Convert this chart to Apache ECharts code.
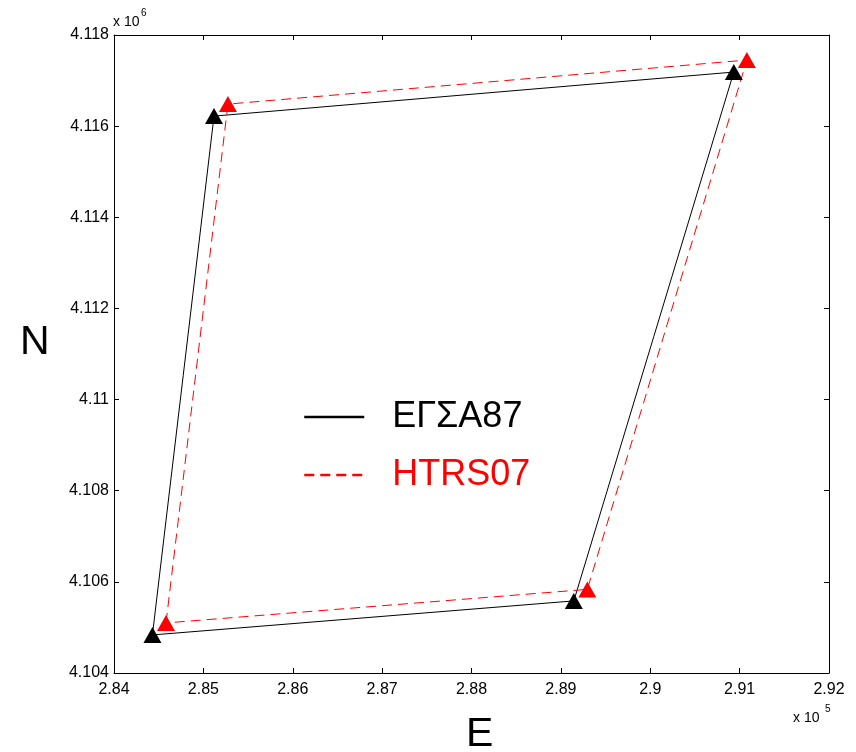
<!DOCTYPE html>
<html>
<head>
<meta charset="utf-8">
<script src="https://cdn.jsdelivr.net/npm/echarts@6/dist/echarts.min.js"></script>
<style>
  html, body { margin: 0; padding: 0; background: #fff; }
  #chart { width: 856px; height: 752px; }
</style>
</head>
<body>
<div id="chart"></div>
<script>
// corner points (E, N) in metres, polygon closed back to first point
var egsaE = [284430, 285119, 290935, 289145, 284430];
var egsaN = [4104835, 4116220, 4117187, 4105582, 4104835];
var htrsE = [284582, 285275, 291081, 289296, 284582];
var htrsN = [4105099, 4116484, 4117450, 4105835, 4105099];

var seriesNames = ['ΕΓΣΑ87', 'HTRS07'];

var FONT = 'Liberation Sans, Arial, sans-serif';

function zip(xs, ys) {
    return xs.map(function (x, i) { return [x, ys[i]]; });
}

function fmtX(v) { return String(+(v / 1e5).toFixed(2)); }
function fmtY(v) { return String(+(v / 1e6).toFixed(3)); }

var axisCommon = {
    type: 'value',
    axisLine: { show: true, onZero: false, lineStyle: { color: '#000', width: 1 } },
    axisTick: { show: true, inside: true, length: 5, lineStyle: { color: '#000' } },
    splitLine: { show: false }
};

function xAxis(pos, labels) {
    return Object.assign({}, axisCommon, {
        position: pos, min: 284000, max: 292000, interval: 1000,
        axisLabel: { show: labels, formatter: fmtX, color: '#000', fontSize: 16, fontFamily: FONT, margin: 9 }
    });
}
function yAxis(pos, labels) {
    return Object.assign({}, axisCommon, {
        position: pos, min: 4104000, max: 4118000, interval: 2000,
        axisLabel: { show: labels, formatter: fmtY, color: '#000', fontSize: 16, fontFamily: FONT, margin: 5 }
    });
}

var chart = echarts.init(document.getElementById('chart'));
chart.setOption({
    animation: false,
    backgroundColor: '#fff',
    grid: { left: 114, right: 27, top: 35, bottom: 79 },
    xAxis: [xAxis('bottom', true), xAxis('top', false)],
    yAxis: [yAxis('left', true), yAxis('right', false)],
    legend: {
        orient: 'vertical',
        left: 298, top: 394,
        itemWidth: 60, itemHeight: 14, itemGap: 22,
        itemStyle: { opacity: 0 },
        lineStyle: { width: 2.5 },
        textStyle: { fontSize: 36, fontFamily: FONT, padding: [0, 0, 0, 23] },
        data: [
            { name: seriesNames[0], textStyle: { color: '#000' } },
            { name: seriesNames[1], textStyle: { color: '#ff0000' } }
        ]
    },
    graphic: [
        { type: 'text', left: 113, top: 15, style: { text: 'x 10', fontSize: 14, fontFamily: FONT, fill: '#000' } },
        { type: 'text', left: 141, top: 8, style: { text: '6', fontSize: 10, fontFamily: FONT, fill: '#000' } },
        { type: 'text', left: 793, top: 711, style: { text: 'x 10', fontSize: 14, fontFamily: FONT, fill: '#000' } },
        { type: 'text', left: 825, top: 704, style: { text: '5', fontSize: 10, fontFamily: FONT, fill: '#000' } },
        { type: 'text', left: 20, top: 322, style: { text: 'N', fontSize: 41, fontFamily: FONT, fill: '#000' } },
        { type: 'text', left: 466, top: 714, style: { text: 'E', fontSize: 41, fontFamily: FONT, fill: '#000' } }
    ],
    series: [
        {
            name: seriesNames[0], type: 'line', symbol: 'none', z: 2,
            color: '#000',
            lineStyle: { color: '#000', width: 1 },
            data: zip(egsaE, egsaN)
        },
        {
            name: seriesNames[1], type: 'line', symbol: 'none', z: 3,
            color: '#ff0000',
            lineStyle: { color: '#ff0000', width: 1, type: [10, 6] },
            data: zip(htrsE, htrsN)
        },
        {
            name: 'egsaPts', type: 'scatter', symbol: 'triangle', symbolSize: [18, 16], z: 4,
            itemStyle: { color: '#000', opacity: 1 },
            data: zip(egsaE, egsaN).slice(0, 4)
        },
        {
            name: 'htrsPts', type: 'scatter', symbol: 'triangle', symbolSize: [18, 16], z: 5,
            itemStyle: { color: '#ff0000', opacity: 1 },
            data: zip(htrsE, htrsN).slice(0, 4)
        }
    ]
});
</script>
</body>
</html>
